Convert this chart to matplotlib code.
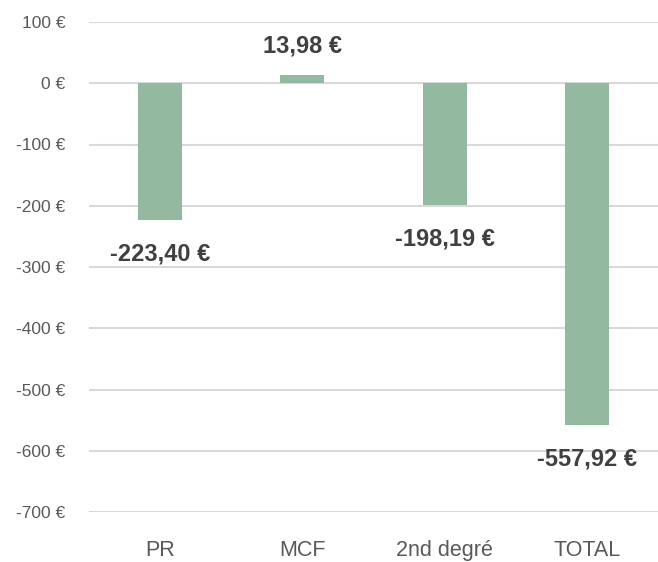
import matplotlib.pyplot as plt
import numpy as np

# data
categories = ['PR', 'MCF', '2nd degré', 'TOTAL']
values = [-223.40, 13.98, -198.19, -557.92]
labels = ['-223,40 €', '13,98 €', '-198,19 €', '-557,92 €']
yticks = [100, 0, -100, -200, -300, -400, -500, -600, -700]

plt.rcParams['font.family'] = ['Liberation Sans', 'DejaVu Sans']

fig = plt.figure(figsize=(6.58, 5.62), dpi=100)
ax = fig.add_axes([89 / 658, 1 - 512 / 562, 1 - 89 / 658, (512 - 22) / 562])

x = np.arange(len(categories))
ax.bar(x, values, width=0.31, color='#93b9a1', zorder=3)

ax.set_ylim(-700, 100)
ax.set_xlim(-0.5, len(categories) - 0.5)
ax.set_yticks(yticks)
ax.set_yticklabels([f'{v} €' for v in yticks], fontsize=12.5, color='#595959')
ax.set_xticks(x)
ax.set_xticklabels(categories, fontsize=15.5, color='#595959')
ax.tick_params(axis='both', length=0)
ax.tick_params(axis='y', pad=17)
ax.tick_params(axis='x', pad=20)
ax.grid(axis='y', color='#d9d9d9', linewidth=1.5, zorder=0)
for s in ax.spines.values():
    s.set_visible(False)

for xi, v, lab in zip(x, values, labels):
    off = 29 if v >= 0 else -34
    ax.annotate(lab, (xi, v), xytext=(0, off), textcoords='offset pixels',
                ha='center', va='center', fontsize=17, fontweight='bold', color='#404040')

fig.savefig('out.png', dpi=100)
